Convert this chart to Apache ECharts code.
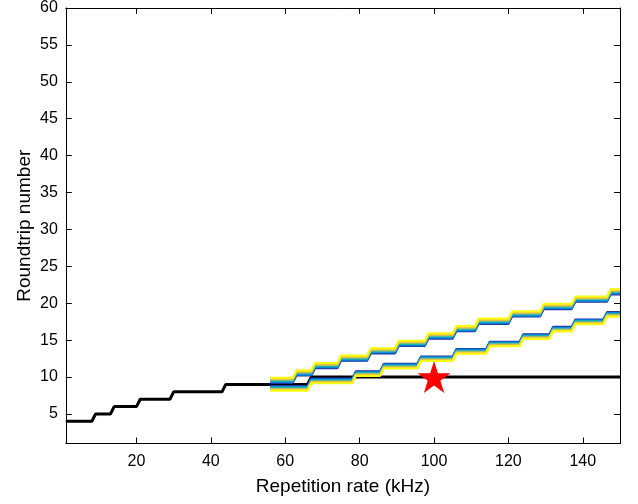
<!DOCTYPE html>
<html>
<head>
<meta charset="utf-8">
<script src="https://cdn.jsdelivr.net/npm/echarts@6/dist/echarts.min.js"></script>
<style>html,body{margin:0;padding:0;background:#fff}#c{width:638px;height:504px}</style>
</head>
<body>
<div id="c"></div>
<script>
// ---- data ----
const xRange = [1, 150];
const yRange = [1, 60];
const xTicks = [20, 40, 60, 80, 100, 120, 140];
const yTicks = [5, 10, 15, 20, 25, 30, 35, 40, 45, 50, 55, 60];

const blackLine = [[1,4],[8,4],[9,5],[13,5],[14,6],[20,6],[21,7],[29,7],[30,8],[43,8],[44,9],[66,9],[67,10],[150,10]];

const upperStartX = 56;
const upperRampX = [62, 67, 74, 82, 89.5, 97.5, 105, 111, 120, 128.5, 137, 146.5];
const upperLevels = [9, 10, 11, 12, 13, 14, 15, 16, 17, 18, 19, 20, 21];
const upperOffsets = [0.2, 0.29, 0.38, 0.47, 0.56, 0.65, 0.74, 0.83, 0.92];

const lowerStartX = 56;
const lowerRampX = [66, 78, 85.5, 95.5, 105, 114, 123, 131, 137, 145.5];
const lowerLevels = [9, 10, 11, 12, 13, 14, 15, 16, 17, 18, 19];
const lowerOffsets = [-0.2, -0.28, -0.36, -0.44, -0.52, -0.6, -0.68, -0.76, -0.84];

const starPoint = [[100, 10]];

const parula = ['#352a87','#0363e1','#1485d4','#06a7c6','#38b99e','#92bf73','#d9ba56','#fcce2e','#f9fb0e'];

// ---- build ----
function stairs(startX, ramps, levels, off) {
  const pts = [[startX, levels[0] + off]];
  for (let i = 0; i < ramps.length; i++) {
    pts.push([ramps[i], levels[i] + off]);
    pts.push([ramps[i] + 1, levels[i + 1] + off]);
  }
  pts.push([xRange[1], levels[levels.length - 1] + off]);
  return pts;
}

const FONT = 'Liberation Sans';
const series = [{
  type: 'line', data: blackLine, showSymbol: false, symbol: 'none',
  lineStyle: { color: '#000', width: 3 }, z: 2, silent: true
}];
upperOffsets.forEach((o, k) => series.push({
  type: 'line', data: stairs(upperStartX, upperRampX, upperLevels, o), symbol: 'none',
  lineStyle: { color: parula[k], width: 2 }, z: 3, silent: true
}));
lowerOffsets.forEach((o, k) => series.push({
  type: 'line', data: stairs(lowerStartX, lowerRampX, lowerLevels, o), symbol: 'none',
  lineStyle: { color: parula[k], width: 2 }, z: 3, silent: true
}));
series.push({
  type: 'scatter', data: starPoint, z: 5,
  symbol: 'path://M100 0 L122.45 69.1 L195.11 69.1 L136.33 111.8 L158.78 180.9 L100 138.2 L41.22 180.9 L63.67 111.8 L4.89 69.1 L77.55 69.1 Z',
  symbolSize: [33, 32], itemStyle: { color: '#ff0000', opacity: 1 }
});

const axisLine = { show: true, onZero: false, lineStyle: { color: '#000', width: 1 } };
function tick(vals) { return { show: true, inside: true, length: 6, customValues: vals, lineStyle: { color: '#000', width: 1 } }; }

const chart = echarts.init(document.getElementById('c'), null, { renderer: 'canvas' });
chart.setOption({
  animation: false,
  backgroundColor: '#fff',
  grid: { left: 65.8, right: 18, top: 6, bottom: 60.5, containLabel: false },
  xAxis: [{
    type: 'value', min: xRange[0], max: xRange[1], position: 'bottom',
    axisLine, axisTick: tick(xTicks), splitLine: { show: false },
    axisLabel: { customValues: xTicks, color: '#000', fontSize: 16, fontFamily: FONT, margin: 10 },
    name: 'Repetition rate (kHz)', nameLocation: 'middle', nameGap: 34, nameMoveOverlap: false,
    nameTextStyle: { color: '#000', fontSize: 19, fontFamily: FONT }
  }, {
    type: 'value', min: xRange[0], max: xRange[1], position: 'top',
    axisLine, axisTick: tick(xTicks), axisLabel: { show: false }, splitLine: { show: false }
  }],
  yAxis: [{
    type: 'value', min: yRange[0], max: yRange[1], position: 'left',
    axisLine, axisTick: tick(yTicks), splitLine: { show: false },
    axisLabel: { customValues: yTicks, color: '#000', fontSize: 16, fontFamily: FONT, margin: 8 },
    name: 'Roundtrip number', nameLocation: 'middle', nameGap: 32, nameRotate: 90, nameMoveOverlap: false,
    nameTextStyle: { color: '#000', fontSize: 19, fontFamily: FONT }
  }, {
    type: 'value', min: yRange[0], max: yRange[1], position: 'right',
    axisLine, axisTick: tick(yTicks), axisLabel: { show: false }, splitLine: { show: false }
  }],
  series: series.map(s => Object.assign({ xAxisIndex: 0, yAxisIndex: 0 }, s))
});
</script>
</body>
</html>
